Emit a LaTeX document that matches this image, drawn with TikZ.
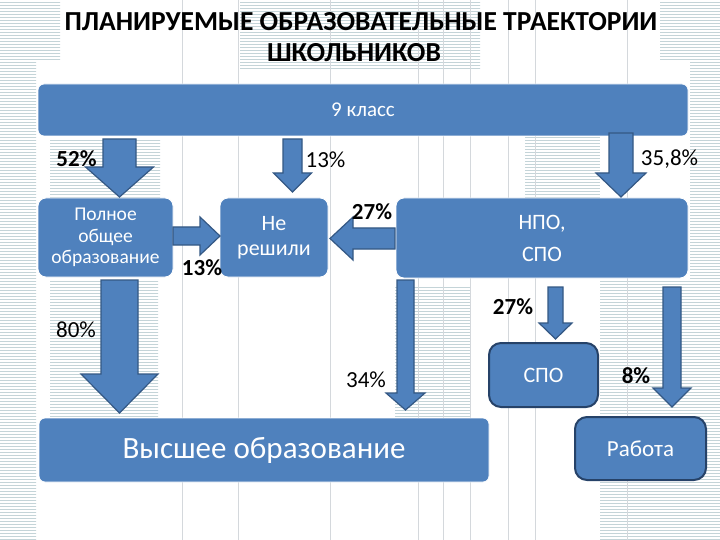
\documentclass[tikz,border=0pt]{standalone}
\usepackage{fontspec}
\setmainfont{Carlito}
\usetikzlibrary{patterns}
\definecolor{boxblue}{RGB}{79,129,189}
\definecolor{arrowline}{RGB}{52,88,132}
\definecolor{darkline}{RGB}{38,66,104}
\definecolor{stripe}{RGB}{196,212,216}
\definecolor{vline}{RGB}{212,216,220}
\newcommand\blockdown[6]{\filldraw[arr] ({#1-#3},#2) -- ({#1+#3},#2) -- ({#1+#3},#5) -- ({#1+#4},#5) -- (#1,#6) -- ({#1-#4},#5) -- ({#1-#3},#5) -- cycle;}
\begin{document}
\begin{tikzpicture}[x=1pt,y=-1pt,
  box/.style={fill=boxblue, draw=white, line width=0.8, rounded corners=6, text=white, align=center, inner sep=0},
  boxdark/.style={box, draw=darkline, line width=2, rounded corners=12},
  pct/.style={font=\fontsize{23}{27}\selectfont, text=black, inner sep=0},
  pctb/.style={font=\bfseries\fontsize{23}{27}\selectfont, text=black, inner sep=0},
  arr/.style={fill=boxblue, draw=arrowline, line width=1.2, line join=miter},
  bgstripe/.style={pattern=horizontal lines, pattern color=stripe}]
\useasboundingbox (0,0) rectangle (720,540);
\fill[white] (0,0) rectangle (720,540);
% background texture
\fill[bgstripe] (0,60) rectangle (36,540);
\fill[bgstripe] (690,60) rectangle (720,540);
\fill[bgstripe] (50,140) rectangle (160,200);
\fill[bgstripe] (50,280) rectangle (158,420);
\fill[bgstripe] (600,280) rectangle (720,540);
\fill[bgstripe] (525,100) rectangle (600,200);
\fill[bgstripe] (395,285) rectangle (470,420);
\fill[bgstripe] (240,0) rectangle (480,70);
\fill[bgstripe] (0,0) rectangle (60,60);
\fill[bgstripe] (660,0) rectangle (720,60);
\foreach \vx in {182,238,330,418,443,470,508,535,627}
  \draw[vline, line width=0.7] (\vx,0) -- (\vx,540);
% title
\node[font=\bfseries\fontsize{27.5}{33}\selectfont, inner sep=0] (t1) at (361,22) {ПЛАНИРУЕМЫЕ ОБРАЗОВАТЕЛЬНЫЕ ТРАЕКТОРИИ};
\node[font=\bfseries\fontsize{27.5}{33}\selectfont, inner sep=0] (t2) at (354,53) {ШКОЛЬНИКОВ};
% boxes
\node[box, minimum width=650, minimum height=52, font=\fontsize{21}{25}\selectfont] (nine) at (363,110) {9 класс};
\node[box, minimum width=135, minimum height=79, rounded corners=8, font=\fontsize{19.5}{21.5}\selectfont] (full) at (105.5,237.5) {Полное\\общее\\образование};
\node[box, minimum width=108, minimum height=79, rounded corners=8, font=\fontsize{22}{25}\selectfont] (undec) at (274,237.5) {Не\\решили};
\node[box, minimum width=292, minimum height=80, rounded corners=8, font=\fontsize{22}{32}\selectfont] (npo) at (542,238) {НПО,\\СПО};
\node[boxdark, minimum width=109, minimum height=64, font=\fontsize{22}{26}\selectfont] (spo) at (543.5,375) {СПО};
\node[box, minimum width=450, minimum height=64, font=\fontsize{31}{36}\selectfont] (high) at (264,450) {Высшее образование};
\node[boxdark, minimum width=131, minimum height=63, font=\fontsize{23}{27}\selectfont] (work) at (640.5,448.5) {Работа};
% block arrows
\blockdown{119.5}{139}{16.5}{34}{167}{197}
\blockdown{292.5}{139}{9.5}{19}{173}{192}
\blockdown{621}{133}{12}{25}{173}{197}
\blockdown{119.5}{280}{18.5}{38.5}{374}{413}
\blockdown{405.5}{280}{8.5}{19.5}{393}{410}
\blockdown{555.5}{287}{7.5}{16.5}{323}{339}
\blockdown{672}{287}{9}{19}{388}{407}
\filldraw[arr] (173,227) -- (200,227) -- (200,217) -- (220,236) -- (200,255) -- (200,245) -- (173,245) -- cycle;
\filldraw[arr] (395,228) -- (353,228) -- (353,217) -- (330,238.5) -- (353,260) -- (353,249) -- (395,249) -- cycle;
% labels
\node[pctb] (l52) at (76.5,159) {52\%};
\node[pct] (l13a) at (325.5,160) {13\%};
\node[pct] (l358) at (669.5,159) {35,8\%};
\node[pctb] (l27a) at (372,212) {27\%};
\node[pctb] (l13b) at (202,268) {13\%};
\node[pct] (l80) at (76,330) {80\%};
\node[pct] (l34) at (366,380) {34\%};
\node[pctb] (l27b) at (513,307) {27\%};
\node[pctb] (l8) at (636,376) {8\%};
\end{tikzpicture}
\end{document}
